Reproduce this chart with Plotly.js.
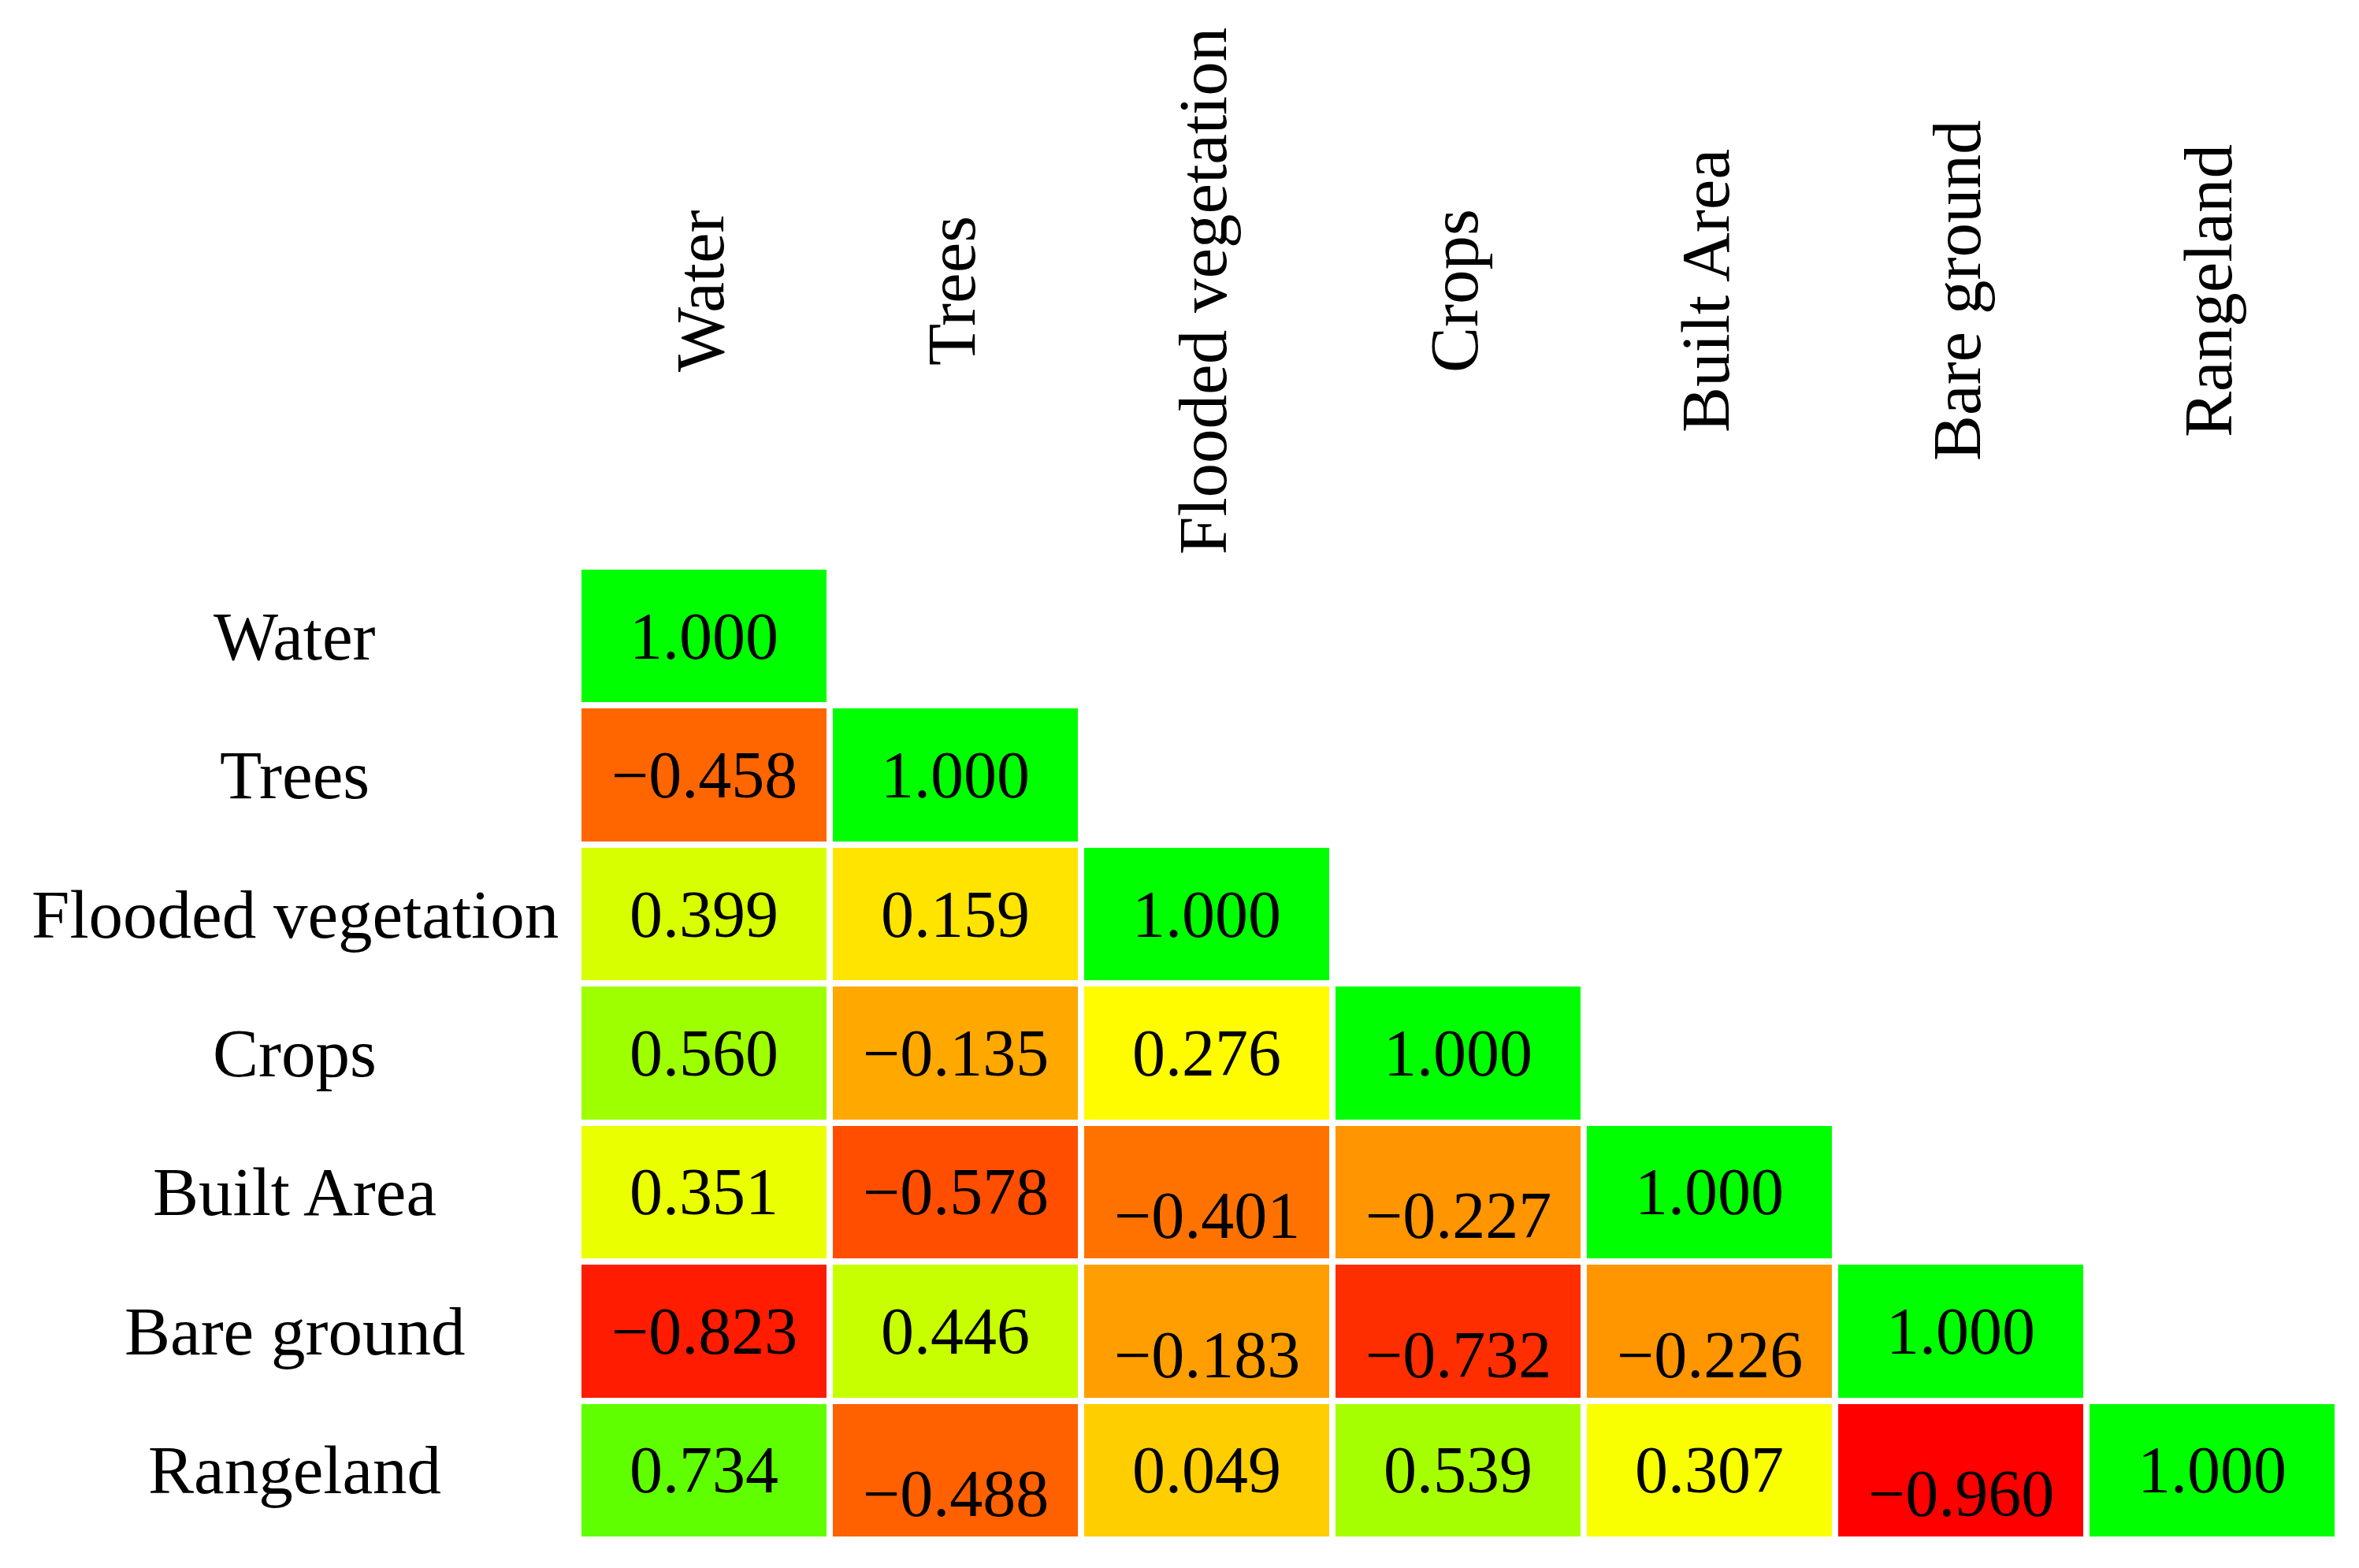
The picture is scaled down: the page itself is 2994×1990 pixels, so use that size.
<!DOCTYPE html>
<html>
<head>
<meta charset="utf-8">
<script src="https://cdn.plot.ly/plotly-3.0.1.min.js"></script>
<style>html,body{margin:0;padding:0;background:#fff;}#chart{width:2994px;height:1990px;}</style>
</head>
<body>
<div id="chart"></div>
<script>
const categories = ['Water', 'Trees', 'Flooded vegetation', 'Crops', 'Built Area', 'Bare ground', 'Rangeland'];
const waterRow     = [1.000];
const treesRow     = [-0.458, 1.000];
const floodedRow   = [0.399, 0.159, 1.000];
const cropsRow     = [0.560, -0.135, 0.276, 1.000];
const builtRow     = [0.351, -0.578, -0.401, -0.227, 1.000];
const bareRow      = [-0.823, 0.446, -0.183, -0.732, -0.226, 1.000];
const rangelandRow = [0.734, -0.488, 0.049, 0.539, 0.307, -0.960, 1.000];

// cells whose label sits low in the original figure: [row, col]
const loweredCells = [[4, 2], [4, 3], [5, 2], [5, 3], [5, 4], [6, 1], [6, 5]];

const rows = [waterRow, treesRow, floodedRow, cropsRow, builtRow, bareRow, rangelandRow];
const z = rows.map(r => categories.map((c, j) => j < r.length ? r[j] : null));

// Excel-style 3-colour scale: min red, 50th percentile yellow, max green
const all = rows.flat().slice().sort((a, b) => a - b);
const m = all.length;
const median = m % 2 ? all[(m - 1) / 2] : (all[m / 2 - 1] + all[m / 2]) / 2;
const zmin = all[0], zmax = all[m - 1];
const mid = (median - zmin) / (zmax - zmin);

const FONT = 'Liberation Serif, Times New Roman, serif';

const trace = {
  type: 'heatmap',
  x: categories,
  y: categories,
  z: z,
  zmin: zmin, zmax: zmax,
  colorscale: [[0, '#FF0000'], [mid, '#FFFF00'], [1, '#00FF00']],
  showscale: false,
  xgap: 8, ygap: 8,
  hoverinfo: 'skip'
};

const annotations = [];
rows.forEach((r, i) => {
  r.forEach((v, j) => {
    const low = loweredCells.some(p => p[0] === i && p[1] === j);
    annotations.push({
      xref: 'x', yref: 'y', x: categories[j], y: categories[i],
      text: v.toFixed(3).replace('-', '\u2212'), showarrow: false,
      xanchor: 'center', yanchor: 'middle', yshift: low ? -30 : 0,
      font: {family: FONT, size: 84, color: '#000'}
    });
  });
});
categories.forEach((c) => {
  annotations.push({
    xref: 'paper', yref: 'y', x: -0.161, y: c, text: c, showarrow: false,
    xanchor: 'center', yanchor: 'middle', font: {family: FONT, size: 87, color: '#000'}
  });
  annotations.push({
    xref: 'x', yref: 'paper', x: c, y: 1.283, text: c, showarrow: false, textangle: -90,
    xanchor: 'center', yanchor: 'middle', xshift: -5, font: {family: FONT, size: 87, color: '#000'}
  });
});

const layout = {
  width: 2994, height: 1990,
  margin: {l: 734, r: 27, t: 719, b: 36},
  paper_bgcolor: '#fff', plot_bgcolor: '#fff',
  xaxis: {type: 'category', showticklabels: false, showgrid: false, zeroline: false, showline: false, ticks: ''},
  yaxis: {type: 'category', autorange: 'reversed', showticklabels: false, showgrid: false, zeroline: false, showline: false, ticks: ''},
  annotations: annotations,
  showlegend: false
};

Plotly.newPlot('chart', [trace], layout, {staticPlot: true, displayModeBar: false});
</script>
</body>
</html>
